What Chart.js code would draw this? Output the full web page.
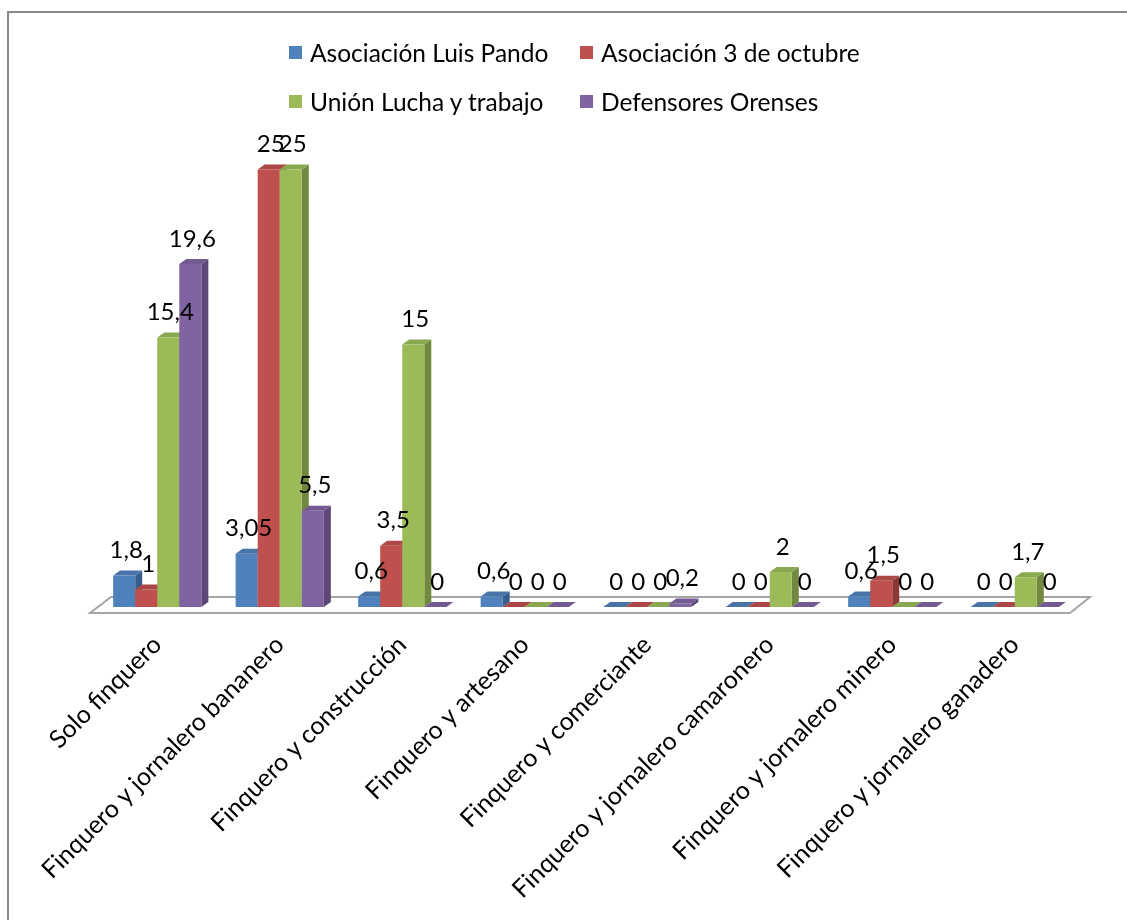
<!DOCTYPE html>
<html>
<head>
<meta charset="utf-8">
<script src="https://cdn.jsdelivr.net/npm/chart.js@4.4.1/dist/chart.umd.min.js"></script>
<style>
    body { margin: 0; background: #fff; }
    #wrap { position: relative; width: 1127px; height: 920px; overflow: hidden; }
    #frame {
        position: absolute; left: 7px; top: 11px; width: 1200px; height: 1000px;
        border-left: 2px solid #8a8a8a; border-top: 2px solid #8a8a8a;
    }
    #chart { position: absolute; left: 0; top: 0; }
    #legend {
        position: absolute; left: 289px; top: 38px;
        display: grid; grid-template-columns: 291px 291px; grid-auto-rows: 49px;
        font-family: Lato, sans-serif; font-size: 24.5px; color: #000;
    }
    .item { display: flex; align-items: center; height: 28px; }
    .swatch { width: 13px; height: 13px; margin-right: 8px; flex: none; }
</style>
</head>
<body>
<div id="wrap">
    <div id="frame"></div>
    <canvas id="chart" width="1127" height="920"></canvas>
    <div id="legend"></div>
</div>
<script>
const categories = [
    'Solo finquero',
    'Finquero y jornalero bananero',
    'Finquero y construcción',
    'Finquero y artesano',
    'Finquero y comerciante',
    'Finquero y jornalero camaronero',
    'Finquero y jornalero minero',
    'Finquero y jornalero ganadero'
];
const seriesNames = ['Asociación Luis Pando', 'Asociación 3 de octubre', 'Unión Lucha y trabajo', 'Defensores Orenses'];
const luisPando   = [1.8, 3.05, 0.6, 0.6, 0, 0, 0.6, 0];
const tresOctubre = [1, 25, 3.5, 0, 0, 0, 1.5, 0];
const luchaTrabajo = [15.4, 25, 15, 0, 0, 2, 0, 1.7];
const orenses      = [19.6, 5.5, 0, 0, 0.2, 0, 0, 0];

const fronts = ['#4f81bd', '#c0504d', '#9bbb59', '#8064a2'];
const sides  = ['#385d8a', '#8c3836', '#71893f', '#5c4776'];
const tops   = ['#4773a8', '#ab4744', '#8aa84f', '#735a92'];

const DX = 7, DY = -5;
const FONT = 'Lato, sans-serif';

const fmt = v => String(v).replace('.', ',');

// Excel-like 3D columns: floor slab, side and top faces drawn around the bar elements
const depth3d = {
    id: 'depth3d',
    beforeDatasetsDraw(chart) {
        const { ctx, chartArea } = chart;
        const base = chart.scales.y.getPixelForValue(0);
        const l = chartArea.left, r = chartArea.right;
        ctx.save();
        ctx.beginPath();
        ctx.moveTo(l - 6, base + 6);
        ctx.lineTo(l + 15, base - 10);
        ctx.lineTo(r + 14, base - 10);
        ctx.lineTo(r - 6, base + 6);
        ctx.closePath();
        ctx.fillStyle = '#fff';
        ctx.fill();
        ctx.lineWidth = 2;
        ctx.strokeStyle = '#a6a6a6';
        ctx.stroke();
        ctx.restore();
    },
    beforeDatasetDraw() {
        return false;
    },
    afterDatasetsDraw(chart) {
        const ctx = chart.ctx;
        const sets = chart.data.datasets;
        ctx.save();
        categories.forEach((c, j) => {
            sets.forEach((ds, i) => {
                const bar = chart.getDatasetMeta(i).data[j];
                const { x, y, base, width } = bar.getProps(['x', 'y', 'base', 'width'], true);
                const left = x - width / 2, right = x + width / 2;
                ctx.fillStyle = sides[i];
                ctx.beginPath();
                ctx.moveTo(right, y);
                ctx.lineTo(right + DX, y + DY);
                ctx.lineTo(right + DX, base + DY);
                ctx.lineTo(right, base);
                ctx.closePath();
                ctx.fill();
                ctx.fillStyle = tops[i];
                ctx.beginPath();
                ctx.moveTo(left, y);
                ctx.lineTo(left + DX, y + DY);
                ctx.lineTo(right + DX, y + DY);
                ctx.lineTo(right, y);
                ctx.closePath();
                ctx.fill();
                ctx.fillStyle = fronts[i];
                ctx.fillRect(left, y, width, base - y);
            });
        });
        ctx.fillStyle = '#000';
        ctx.font = '24px ' + FONT;
        ctx.textAlign = 'center';
        ctx.textBaseline = 'middle';
        sets.forEach((ds, i) => {
            chart.getDatasetMeta(i).data.forEach((bar, j) => {
                ctx.fillText(fmt(ds.data[j]), bar.x + 2, bar.y - 25);
            });
        });
        ctx.restore();
    }
};

const chart = new Chart(document.getElementById('chart'), {
    type: 'bar',
    data: {
        labels: categories,
        datasets: [
            { label: seriesNames[0], data: luisPando, backgroundColor: fronts[0] },
            { label: seriesNames[1], data: tresOctubre, backgroundColor: fronts[1] },
            { label: seriesNames[2], data: luchaTrabajo, backgroundColor: fronts[2] },
            { label: seriesNames[3], data: orenses, backgroundColor: fronts[3] }
        ]
    },
    options: {
        responsive: false,
        animation: false,
        categoryPercentage: 0.72,
        barPercentage: 1,
        layout: { padding: { left: 96, right: 51, top: 117, bottom: 0 } },
        plugins: {
            legend: { display: false },
            tooltip: { enabled: false }
        },
        scales: {
            y: { display: false, min: 0, max: 28 },
            x: {
                grid: { display: false },
                border: { display: false },
                ticks: {
                    color: '#000',
                    font: { family: FONT, size: 25 },
                    minRotation: 45,
                    maxRotation: 45,
                    autoSkip: false,
                    padding: 15
                },
                afterFit: s => { s.height = 920 - 607; }
            }
        }
    },
    plugins: [depth3d]
});

const legend = document.getElementById('legend');
chart.data.datasets.forEach(ds => {
    const item = document.createElement('div');
    item.className = 'item';
    item.innerHTML = `<span class="swatch" style="background:${ds.backgroundColor}"></span><span>${ds.label}</span>`;
    legend.appendChild(item);
});
</script>
</body>
</html>
